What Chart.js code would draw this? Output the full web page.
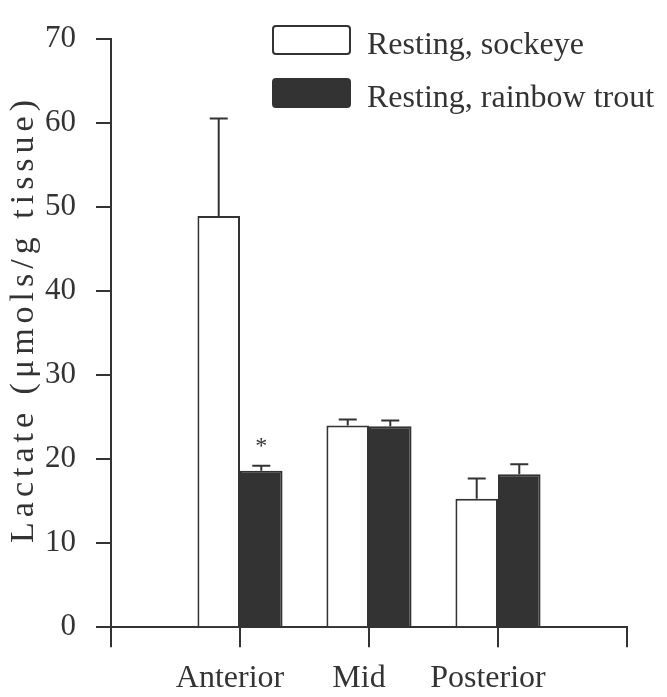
<!DOCTYPE html>
<html><head><meta charset="utf-8">
<script src="https://cdn.jsdelivr.net/npm/chart.js@4/dist/chart.umd.min.js"></script>
<style>html,body{margin:0;padding:0;background:#fff;} canvas{display:block;}</style>
</head><body>
<canvas id="c" width="667" height="697"></canvas>
<script>
const categories = ['', 'Anterior', 'Mid', 'Posterior', ''];
const seriesNames = ['Resting, sockeye', 'Resting, rainbow trout'];
const sockeye = [null, 48.9, 24.0, 15.3, null];
const sockeyeErr = [null, 11.6, 0.7, 2.4, null];
const trout = [null, 18.6, 23.9, 18.2, null];
const troutErr = [null, 0.6, 0.7, 1.2, null];
const troutMarks = [null, '*', null, null, null];
const yTicks = [0, 10, 20, 30, 40, 50, 60, 70];
const yTitle = 'Lactate (μmols/g tissue)';

const INK = '#333';
const FONT = 'Liberation Serif';

const errorBarPlugin = {
  id: 'errorBars',
  afterDatasetsDraw(chart) {
    const ctx = chart.ctx, ys = chart.scales.y;
    chart.data.datasets.forEach((ds, i) => {
      const meta = chart.getDatasetMeta(i);
      meta.data.forEach((el, j) => {
        const v = ds.data[j], e = ds.errors[j];
        if (v == null || e == null) return;
        const top = ys.getPixelForValue(v + e);
        ctx.save();
        ctx.strokeStyle = INK; ctx.lineWidth = 2;
        ctx.beginPath();
        ctx.moveTo(el.x, el.y); ctx.lineTo(el.x, top);
        ctx.moveTo(el.x - 9, top); ctx.lineTo(el.x + 9, top);
        ctx.stroke();
        const m = ds.marks && ds.marks[j];
        if (m) {
          ctx.fillStyle = INK;
          ctx.font = '24px "' + FONT + '"';
          ctx.textAlign = 'center'; ctx.textBaseline = 'middle';
          ctx.fillText(m, el.x, top - 19);
        }
        ctx.restore();
      });
    });
  }
};

const legendPlugin = {
  id: 'boxLegend',
  afterDraw(chart, args, opts) {
    const ctx = chart.ctx;
    chart.data.datasets.forEach((ds, i) => {
      const y = opts.top + i * opts.rowStep;
      ctx.save();
      ctx.beginPath();
      ctx.roundRect(opts.left, y, opts.boxW, opts.boxH, 3);
      ctx.fillStyle = ds.backgroundColor; ctx.fill();
      ctx.lineWidth = 2; ctx.strokeStyle = INK; ctx.stroke();
      ctx.fillStyle = INK;
      ctx.font = '32px "' + FONT + '"';
      ctx.textAlign = 'left'; ctx.textBaseline = 'alphabetic';
      ctx.fillText(ds.label, opts.textX, y + opts.boxH);
      ctx.restore();
    });
  }
};

const titleSpacingPlugin = {
  id: 'titleSpacing',
  beforeDraw(chart) {
    const s = chart.scales.y;
    if (s && !s._spaced) {
      const orig = s.drawTitle;
      s.drawTitle = function () {
        const c = this.ctx; c.save(); c.letterSpacing = '5px'; c.translate(0, -14); orig.call(this); c.restore();
      };
      s._spaced = true;
    }
  }
};

new Chart(document.getElementById('c'), {
  type: 'bar',
  data: {
    labels: categories,
    datasets: [
      { label: seriesNames[0], data: sockeye, errors: sockeyeErr, backgroundColor: '#ffffff', borderColor: INK, borderWidth: 2, categoryPercentage: 0.66, barPercentage: 1.0 },
      { label: seriesNames[1], data: trout, errors: troutErr, marks: troutMarks, backgroundColor: INK, borderColor: INK, borderWidth: 2, categoryPercentage: 0.66, barPercentage: 1.0 }
    ]
  },
  options: {
    responsive: false,
    animation: false,
    devicePixelRatio: 1,
    layout: { padding: { top: 22.7, right: 40, bottom: 0, left: 0 } },
    plugins: {
      legend: { display: false },
      tooltip: { enabled: false },
      boxLegend: { left: 273, top: 26, rowStep: 53, boxW: 77, boxH: 28, textX: 367 }
    },
    scales: {
      x: {
        type: 'category',
        offset: false,
        grid: { offset: false, display: true, drawOnChartArea: false, drawTicks: true, tickLength: 20, color: INK, lineWidth: 2 },
        border: { display: true, color: INK, width: 2 },
        ticks: { font: { family: FONT, size: 32 }, color: INK, padding: 12, labelOffset: -10, autoSkip: false, maxRotation: 0 },
        afterFit(s) { s.height = 69.7; }
      },
      y: {
        min: 0, max: 70,
        afterBuildTicks(s) { s.ticks = yTicks.map(v => ({ value: v })); },
        grid: { drawOnChartArea: false, drawTicks: true, tickLength: 15, color: INK, lineWidth: 2 },
        border: { display: true, color: INK, width: 2 },
        ticks: { font: { family: FONT, size: 31 }, color: INK, padding: 20 },
        title: { display: true, text: yTitle, font: { family: FONT, size: 34 }, color: INK, padding: { top: 4, bottom: 0 } },
        afterFit(s) { s.width = 111; }
      }
    }
  },
  plugins: [errorBarPlugin, legendPlugin, titleSpacingPlugin]
});
</script>
</body></html>
